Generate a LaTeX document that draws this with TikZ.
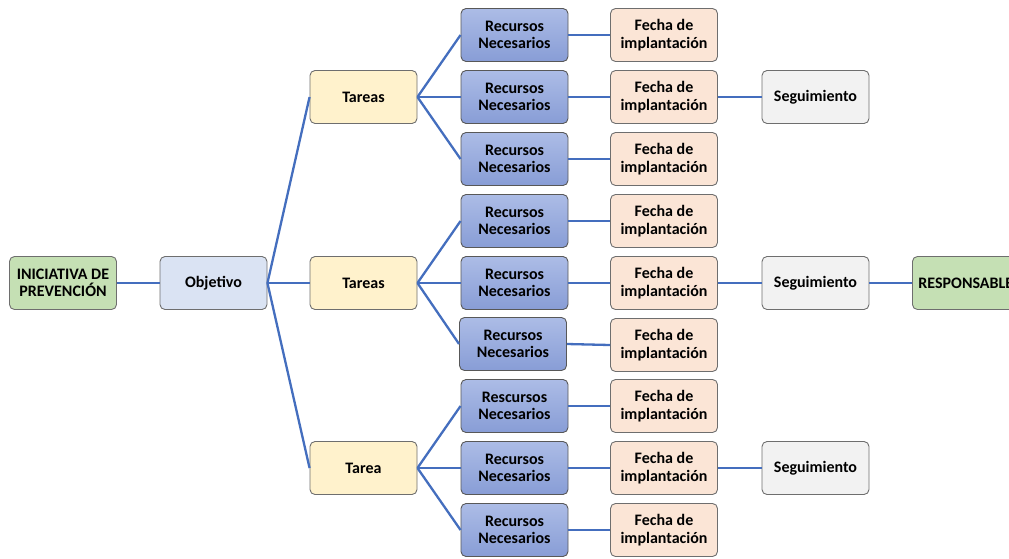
\documentclass[tikz,border=0pt]{standalone}
\usepackage{fontspec}
\setmainfont{Carlito}
\definecolor{lineblue}{RGB}{68,110,190}
\definecolor{bordergray}{RGB}{110,110,110}
\definecolor{inigreen}{RGB}{197,224,180}
\definecolor{objblue}{RGB}{218,227,243}
\definecolor{taryellow}{RGB}{255,242,204}
\definecolor{rectop}{RGB}{172,188,230}
\definecolor{recbot}{RGB}{136,157,214}
\definecolor{fechapeach}{RGB}{251,229,214}
\definecolor{seggray}{RGB}{242,242,242}
\tikzset{
  box/.style={draw=bordergray, line width=0.9pt, rounded corners=5pt, minimum width=107pt, minimum height=53pt,
    align=center, inner sep=1pt, font=\fontsize{16pt}{17.5pt}\selectfont\bfseries},
  ini/.style={box, fill=inigreen},
  obj/.style={box, fill=objblue},
  tar/.style={box, fill=taryellow},
  rec/.style={box, top color=rectop, bottom color=recbot, draw=bordergray!80!black},
  fecha/.style={box, fill=fechapeach},
  seg/.style={box, fill=seggray},
  conn/.style={draw=lineblue, line width=2.3pt},
}
\begin{document}
\begin{tikzpicture}[x=1pt,y=-1pt]
\useasboundingbox (0,0) rectangle (1009,558);
\clip (0,0) rectangle (1009,558);
\node[ini] (ini) at (63,283) {INICIATIVA DE\\PREVENCIÓN};
\node[obj] (obj) at (213.5,283) {Objetivo};
\node[tar] (t1) at (363.5,97) {Tareas};
\node[tar] (t2) at (363.5,283) {Tareas};
\node[tar] (t3) at (363.5,468) {Tarea};
\node[rec] (r1) at (514.5,35) {Recursos\\Necesarios};
\node[rec] (r2) at (514.5,97) {Recursos\\Necesarios};
\node[rec] (r3) at (514.5,159) {Recursos\\Necesarios};
\node[rec] (r4) at (514.5,221) {Recursos\\Necesarios};
\node[rec] (r5) at (514.5,283) {Recursos\\Necesarios};
\node[rec] (r6) at (513,344) {Recursos\\Necesarios};
\node[rec] (r7) at (514.5,406) {Rescursos\\Necesarios};
\node[rec] (r8) at (514.5,468) {Recursos\\Necesarios};
\node[rec] (r9) at (514.5,530) {Recursos\\Necesarios};
\node[fecha] (f1) at (664,35) {Fecha de\\implantación};
\node[fecha] (f2) at (664,97) {Fecha de\\implantación};
\node[fecha] (f3) at (664,159) {Fecha de\\implantación};
\node[fecha] (f4) at (664,221) {Fecha de\\implantación};
\node[fecha] (f5) at (664,283) {Fecha de\\implantación};
\node[fecha] (f6) at (664,345) {Fecha de\\implantación};
\node[fecha] (f7) at (664,406) {Fecha de\\implantación};
\node[fecha] (f8) at (664,468) {Fecha de\\implantación};
\node[fecha] (f9) at (664,530) {Fecha de\\implantación};
\node[seg] (s1) at (815.5,97) {Seguimiento};
\node[seg] (s2) at (815.5,283) {Seguimiento};
\node[seg] (s3) at (815.5,468) {Seguimiento};
\node[ini, anchor=west, text width=100pt, align=left, inner xsep=6pt] (resp) at (912,283) {RESPONSABLE};
\draw[conn] (ini.east) -- (obj.west);
\foreach \t in {t1,t2,t3} \draw[conn] (obj.east) -- (\t.west);
\foreach \r in {r1,r2,r3} \draw[conn] (t1.east) -- (\r.west);
\foreach \r in {r4,r5,r6} \draw[conn] (t2.east) -- (\r.west);
\foreach \r in {r7,r8,r9} \draw[conn] (t3.east) -- (\r.west);
\draw[conn] (r1.east) -- (f1.west);
\draw[conn] (r2.east) -- (f2.west);
\draw[conn] (r3.east) -- (f3.west);
\draw[conn] (r4.east) -- (f4.west);
\draw[conn] (r5.east) -- (f5.west);
\draw[conn] (r6.east) -- (f6.west);
\draw[conn] (r7.east) -- (f7.west);
\draw[conn] (r8.east) -- (f8.west);
\draw[conn] (r9.east) -- (f9.west);
\draw[conn] (f2.east) -- (s1.west);
\draw[conn] (f5.east) -- (s2.west);
\draw[conn] (f8.east) -- (s3.west);
\draw[conn] (s2.east) -- (resp.west);
\end{tikzpicture}
\end{document}
